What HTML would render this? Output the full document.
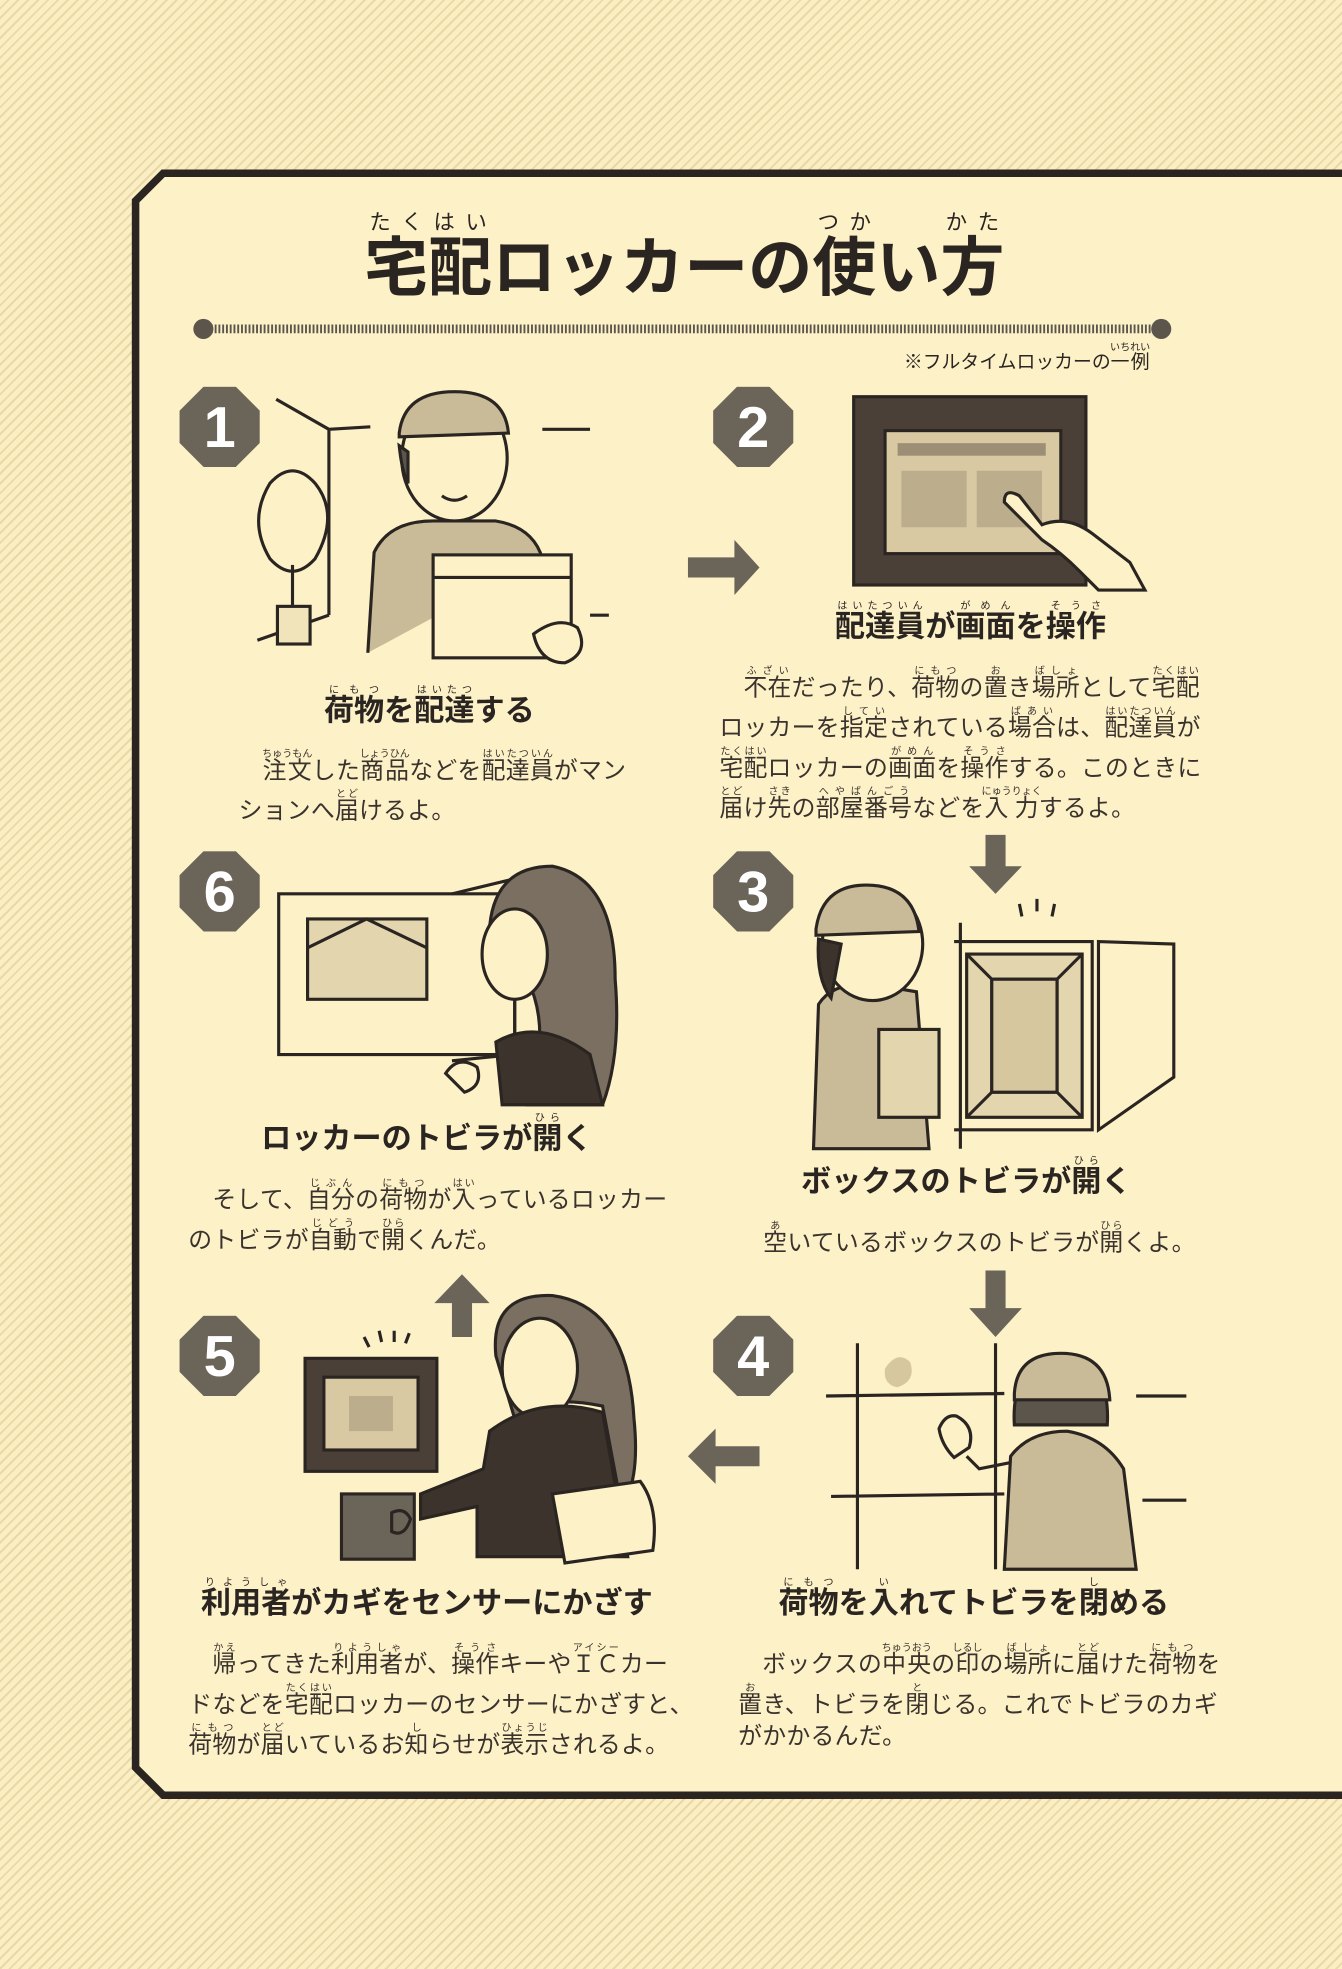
<!DOCTYPE html>
<html><head><meta charset="utf-8"><style>
html,body{margin:0;padding:0;}
body{width:1342px;height:1969px;overflow:hidden;background:#fbeec2;
background-image:repeating-linear-gradient(135deg,#fbeec2 0 5px,#e9d9a6 5px 7px);
font-family:"Liberation Sans","Noto Sans CJK JP",sans-serif;color:#2b2522;}
#s{position:absolute;left:0;top:0;width:1069px;height:1568px;transform:scale(1.2554);transform-origin:0 0;}
.a{position:absolute;white-space:nowrap;}
.h{font-weight:bold;font-size:24px;line-height:30px;}
.b{font-size:19px;line-height:24px;color:#3a332d;letter-spacing:0.2px;}
rt{font-size:8px;font-weight:normal;letter-spacing:0;}
.bd{position:absolute;width:64px;height:64px;background:#6b6459;color:#fff;font-weight:bold;font-size:46px;line-height:64px;text-align:center;
clip-path:polygon(30% 0,70% 0,100% 30%,100% 70%,70% 100%,30% 100%,0 70%,0 30%);}
</style></head><body><div id="s">
<svg class="a" style="left:0;top:0" width="1069" height="1568">
<polygon points="130,138 1075,138 1075,1430 130,1430 108,1408 108,160" fill="#fdf1c8" stroke="#2b2522" stroke-width="6"/>
<line x1="165" y1="262" x2="922" y2="262" stroke="#5c554c" stroke-width="7" stroke-dasharray="1.5 1.5"/>
<circle cx="162" cy="262" r="8" fill="#5c554c"/><circle cx="925" cy="262" r="8" fill="#5c554c"/>
<g fill="#6b6459">
<polygon points="548,444 585,444 585,430 605,452 585,474 585,460 548,460"/>
<polygon points="785,665 801,665 801,690 814,690 793,712 772,690 785,690"/>
<polygon points="785,1012 801,1012 801,1042 814,1042 793,1065 772,1042 785,1042"/>
<polygon points="605,1152 570,1152 570,1138 548,1160 570,1182 570,1168 605,1168"/>
<polygon points="360,1065 376,1065 376,1038 390,1038 368,1015 346,1038 360,1038"/>
</g>
<g stroke="#2b2522" stroke-width="2.5" fill="none">
<path d="M220,318 L262,342 L262,490 M262,342 L295,340 M432,342 L470,342 M262,490 L205,510 M470,490 L485,490"/>
<path d="M215,385 q18,-20 36,0 q20,25 0,60 q-18,20 -36,0 q-18,-30 0,-60z" fill="#fdf1c8"/>
<line x1="233" y1="450" x2="233" y2="485"/>
<rect x="221" y="483" width="26" height="30" fill="#f1e4bb"/>
<path d="M293,520 L298,440 Q310,415 345,415 L395,415 Q425,420 432,445" fill="#c9bb98"/>
<ellipse cx="362" cy="365" rx="42" ry="50" fill="#fdf1c8"/>
<path d="M318,345 Q322,312 362,312 Q402,312 405,345 L318,348z" fill="#c9bb98"/>
<path d="M318,355 Q320,375 325,385 L325,360z" fill="#5c554c"/>
<path d="M352,395 Q362,402 372,395"/>
<rect x="345" y="442" width="110" height="82" fill="#fdf1c8"/>
<line x1="345" y1="460" x2="455" y2="460"/>
<path d="M425,505 q20,-15 35,-5 q10,20 -10,28 q-20,0 -25,-23z" fill="#fdf1c8"/>
<rect x="680" y="316" width="185" height="150" fill="#4a4037"/>
<rect x="705" y="343" width="140" height="98" fill="#d9c9a3" stroke="#2b2522"/>
<rect x="715" y="353" width="118" height="10" fill="#9c8f75" stroke="none"/>
<rect x="718" y="375" width="52" height="45" fill="#bcae8c" stroke="none"/>
<rect x="778" y="375" width="52" height="45" fill="#bcae8c" stroke="none"/>
<path d="M800,400 L830,430 Q845,440 860,455 L875,470 L912,470 L900,448 L870,425 Q850,410 830,418 L812,395 Q800,388 800,400z" fill="#fdf1c8"/>
<path d="M222,712 L410,712 L410,840 L222,840z"/>
<path d="M360,712 L410,700 L410,840 L360,845"/>
<rect x="245" y="732" width="95" height="64" fill="#e3d5ae"/>
<path d="M245,755 L292,732 L340,755"/>
<path d="M390,760 Q385,690 440,690 Q490,700 490,780 Q495,840 480,880 L420,880 Q440,820 420,780z" fill="#7a6f60"/>
<ellipse cx="410" cy="760" rx="26" ry="36" fill="#fdf1c8"/>
<path d="M395,830 Q430,810 470,840 L480,880 L400,880z" fill="#3b332c"/>
<path d="M355,855 q10,-15 25,-5 q5,15 -10,20z" fill="#fdf1c8"/>
<path d="M765,735 L765,915 M760,750 L870,750 L870,900 L760,900"/>
<path d="M770,760 L862,760 L862,890 L770,890z" fill="#e3d5ae"/>
<path d="M770,760 L790,780 L842,780 L862,760 M770,890 L790,870 L842,870 L862,890 M790,780 L790,870 M842,780 L842,870"/>
<rect x="790" y="780" width="52" height="90" fill="#d6c79e"/>
<path d="M875,750 L935,752 L935,858 L875,900 z" fill="#fdf1c8"/>
<path d="M812,720 L814,730 M826,716 L826,726 M840,720 L838,730"/>
<path d="M648,915 L652,800 Q665,780 700,785 L730,790 L740,915z" fill="#c9bb98"/>
<ellipse cx="695" cy="752" rx="40" ry="45" fill="#fdf1c8"/>
<path d="M650,740 Q655,705 690,705 Q728,705 732,742 L650,745z" fill="#c9bb98"/>
<path d="M652,748 Q650,780 662,795 L670,752z" fill="#3b332c"/>
<rect x="700" y="820" width="48" height="70" fill="#e3d5ae"/>
<path d="M290,1065 l4,8 M302,1060 l2,9 M314,1060 l0,9 M326,1062 l-3,8"/>
<rect x="243" y="1082" width="105" height="90" fill="#4a4037"/>
<rect x="258" y="1097" width="75" height="58" fill="#d9c9a3"/>
<rect x="278" y="1112" width="35" height="28" fill="#bcae8c" stroke="none"/>
<rect x="272" y="1190" width="58" height="52" fill="#6b6459"/>
<path d="M395,1080 Q390,1030 440,1032 Q500,1040 505,1130 Q510,1180 495,1200 L480,1120 Q430,1110 410,1130z" fill="#7a6f60"/>
<ellipse cx="430" cy="1090" rx="30" ry="40" fill="#fdf1c8"/>
<path d="M390,1140 Q430,1110 480,1125 L500,1240 L380,1240 L380,1200 L335,1210 L335,1190 L385,1170z" fill="#3b332c"/>
<path d="M440,1190 L510,1180 Q525,1200 520,1235 L450,1245z" fill="#fdf1c8"/>
<path d="M312,1205 q10,-5 15,5 q-5,15 -15,10z" fill="#6b6459"/>
<path d="M683,1070 L683,1250 M793,1070 L793,1250 M658,1112 L800,1110 M662,1192 L800,1190 M905,1112 L945,1112 M910,1195 L945,1195"/>
<path d="M705,1090 q10,-15 20,-5 q5,15 -10,20 q-12,-2 -10,-15z" fill="#d6c79e" stroke="none"/>
<path d="M800,1250 L805,1160 Q820,1140 850,1140 Q880,1145 895,1170 L905,1250z" fill="#c9bb98"/>
<path d="M808,1135 Q805,1085 845,1080 Q885,1085 882,1135z" fill="#5c554c"/>
<path d="M808,1110 Q810,1078 845,1078 Q882,1078 884,1115 L808,1115z" fill="#c9bb98"/>
<path d="M805,1165 L780,1170 L770,1160" />
<path d="M748,1138 q5,-12 14,-10 q15,8 10,25 l-12,8 q-10,-10 -12,-23z" fill="#fdf1c8"/>
</g>
</svg>
<div class="bd" style="left:143px;top:308px">1</div>
<div class="bd" style="left:568px;top:308px">2</div>
<div class="bd" style="left:143px;top:678px">6</div>
<div class="bd" style="left:568px;top:678px">3</div>
<div class="bd" style="left:143px;top:1048px">5</div>
<div class="bd" style="left:568px;top:1048px">4</div>

<div class="a" style="left:290px;top:168px;font-size:51px;font-weight:bold;line-height:60px;"><ruby>宅配<rt style="font-size:17px">たくはい</rt></ruby>ロッカーの<ruby>使<rt style="font-size:17px">つか</rt></ruby>い<ruby>方<rt style="font-size:17px">かた</rt></ruby></div>
<div class="a" style="left:720px;top:272px;font-size:15px;line-height:18px;">※フルタイムロッカーの<ruby>一例<rt style="font-size:8px">いちれい</rt></ruby></div>

<div class="a h" style="left:258px;top:545px"><ruby>荷物<rt>にもつ</rt></ruby>を<ruby>配達<rt>はいたつ</rt></ruby>する</div>
<div class="a b" style="left:190px;top:596px">　<ruby>注文<rt>ちゅうもん</rt></ruby>した<ruby>商品<rt>しょうひん</rt></ruby>などを<ruby>配達員<rt>はいたついん</rt></ruby>がマン</div>
<div class="a b" style="left:190px;top:628px">ションへ<ruby>届<rt>とど</rt></ruby>けるよ。</div>

<div class="a h" style="left:665px;top:478px"><ruby>配達員<rt>はいたついん</rt></ruby>が<ruby>画面<rt>がめん</rt></ruby>を<ruby>操作<rt>そうさ</rt></ruby></div>
<div class="a b" style="left:573px;top:530px">　<ruby>不在<rt>ふざい</rt></ruby>だったり、<ruby>荷物<rt>にもつ</rt></ruby>の<ruby>置<rt>お</rt></ruby>き<ruby>場所<rt>ばしょ</rt></ruby>として<ruby>宅配<rt>たくはい</rt></ruby></div>
<div class="a b" style="left:573px;top:562px">ロッカーを<ruby>指定<rt>してい</rt></ruby>されている<ruby>場合<rt>ばあい</rt></ruby>は、<ruby>配達員<rt>はいたついん</rt></ruby>が</div>
<div class="a b" style="left:573px;top:594px"><ruby>宅配<rt>たくはい</rt></ruby>ロッカーの<ruby>画面<rt>がめん</rt></ruby>を<ruby>操作<rt>そうさ</rt></ruby>する。このときに</div>
<div class="a b" style="left:573px;top:626px"><ruby>届<rt>とど</rt></ruby>け<ruby>先<rt>さき</rt></ruby>の<ruby>部屋番号<rt>へやばんごう</rt></ruby>などを<ruby>入力<rt>にゅうりょく</rt></ruby>するよ。</div>

<div class="a h" style="left:208px;top:886px">ロッカーのトビラが<ruby>開<rt>ひら</rt></ruby>く</div>
<div class="a b" style="left:150px;top:938px">　そして、<ruby>自分<rt>じぶん</rt></ruby>の<ruby>荷物<rt>にもつ</rt></ruby>が<ruby>入<rt>はい</rt></ruby>っているロッカー</div>
<div class="a b" style="left:150px;top:970px">のトビラが<ruby>自動<rt>じどう</rt></ruby>で<ruby>開<rt>ひら</rt></ruby>くんだ。</div>

<div class="a h" style="left:638px;top:920px">ボックスのトビラが<ruby>開<rt>ひら</rt></ruby>く</div>
<div class="a b" style="left:608px;top:972px"><ruby>空<rt>あ</rt></ruby>いているボックスのトビラが<ruby>開<rt>ひら</rt></ruby>くよ。</div>

<div class="a h" style="left:160px;top:1256px"><ruby>利用者<rt>りようしゃ</rt></ruby>がカギをセンサーにかざす</div>
<div class="a b" style="left:150px;top:1308px">　<ruby>帰<rt>かえ</rt></ruby>ってきた<ruby>利用者<rt>りようしゃ</rt></ruby>が、<ruby>操作<rt>そうさ</rt></ruby>キーや<ruby>ＩＣ<rt>アイシー</rt></ruby>カー</div>
<div class="a b" style="left:150px;top:1340px">ドなどを<ruby>宅配<rt>たくはい</rt></ruby>ロッカーのセンサーにかざすと、</div>
<div class="a b" style="left:150px;top:1372px"><ruby>荷物<rt>にもつ</rt></ruby>が<ruby>届<rt>とど</rt></ruby>いているお<ruby>知<rt>し</rt></ruby>らせが<ruby>表示<rt>ひょうじ</rt></ruby>されるよ。</div>

<div class="a h" style="left:620px;top:1256px"><ruby>荷物<rt>にもつ</rt></ruby>を<ruby>入<rt>い</rt></ruby>れてトビラを<ruby>閉<rt>し</rt></ruby>める</div>
<div class="a b" style="left:588px;top:1308px">　ボックスの<ruby>中央<rt>ちゅうおう</rt></ruby>の<ruby>印<rt>しるし</rt></ruby>の<ruby>場所<rt>ばしょ</rt></ruby>に<ruby>届<rt>とど</rt></ruby>けた<ruby>荷物<rt>にもつ</rt></ruby>を</div>
<div class="a b" style="left:588px;top:1340px"><ruby>置<rt>お</rt></ruby>き、トビラを<ruby>閉<rt>と</rt></ruby>じる。これでトビラのカギ</div>
<div class="a b" style="left:588px;top:1372px">がかかるんだ。</div>
</div></body></html>
